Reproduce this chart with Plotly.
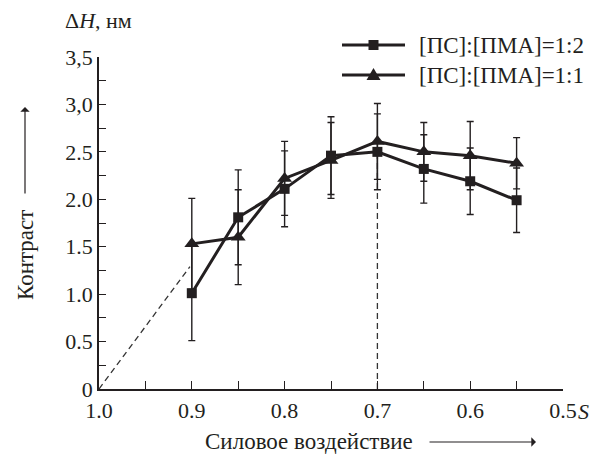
import plotly.graph_objects as go

# ---- data ----
force = [0.9, 0.85, 0.8, 0.75, 0.7, 0.65, 0.6, 0.55]
contrast_12 = [1.01, 1.81, 2.11, 2.46, 2.50, 2.32, 2.19, 1.99]
err_12 = [0.50, 0.50, 0.40, 0.41, 0.40, 0.36, 0.35, 0.34]
contrast_11 = [1.53, 1.60, 2.22, 2.41, 2.61, 2.50, 2.46, 2.38]
err_11 = [0.48, 0.50, 0.39, 0.40, 0.40, 0.31, 0.36, 0.27]
series_names = ["[ПС]:[ПМА]=1:2", "[ПС]:[ПМА]=1:1"]

guide_diag_x = [1.0, 0.902]
guide_diag_y = [0.0, 1.29]
guide_vert_x = [0.7, 0.7]
guide_vert_y = [0.0, 2.5]

y_tickvals = [i * 0.25 for i in range(15)]
y_ticklabels = {0.0: "0", 0.5: "0.5", 1.0: "1.0", 1.5: "1.5", 2.0: "2.0",
                2.5: "2.5", 3.0: "3,0", 3.5: "3,5"}
x_tickvals = [0.5 + i * 0.05 for i in range(11)]
x_ticklabels = {1.0: "1.0", 0.9: "0.9", 0.8: "0.8", 0.7: "0.7", 0.6: "0.6", 0.5: "0.5"}

# ---- layout geometry (pixels) ----
# the page body has an 8px margin, so figure coords = screen coords - 8
OFF = 8
W, H = 611, 455
ML, MR, MT, MB = 91, 56, 49, 74
L, R, T, B = ML, W - MR, MT, H - MB


def px(xs):
    return (xs - OFF - L) / (R - L)


def py(ys):
    return (B - (ys - OFF)) / (B - T)


INK = "#231f20"
FONT = "Liberation Serif"
FS = 22
TF = dict(family=FONT, size=FS, color=INK)
TF_BIG = dict(family=FONT, size=23, color=INK)

fig = go.Figure()

# guide dashed lines
for gx, gy in [(guide_diag_x, guide_diag_y), (guide_vert_x, guide_vert_y)]:
    fig.add_trace(go.Scatter(x=gx, y=gy, mode="lines",
                             line=dict(color="#333333", width=1.3, dash="6px,4px"),
                             hoverinfo="skip", showlegend=False))

fig.add_trace(go.Scatter(
    x=force, y=contrast_11, mode="lines+markers", name=series_names[1],
    line=dict(color=INK, width=3),
    marker=dict(symbol="triangle-up", size=13, color=INK),
    error_y=dict(type="data", array=err_11, symmetric=True, color=INK,
                 thickness=1.4, width=3.5),
    showlegend=False))

fig.add_trace(go.Scatter(
    x=force, y=contrast_12, mode="lines+markers", name=series_names[0],
    line=dict(color=INK, width=3),
    marker=dict(symbol="square", size=10, color=INK),
    error_y=dict(type="data", array=err_12, symmetric=True, color=INK,
                 thickness=1.4, width=3.5),
    showlegend=False))

fig.update_layout(
    width=W, height=H,
    margin=dict(l=ML, r=MR, t=MT, b=MB, pad=0),
    paper_bgcolor="white", plot_bgcolor="white",
    font=TF,
    xaxis=dict(range=[1.0, 0.5], showgrid=False, zeroline=False,
               showline=True, linecolor=INK, linewidth=1.5,
               ticks="inside", ticklen=8, tickwidth=1.3, tickcolor=INK,
               tickvals=x_tickvals, ticklabelstandoff=1,
               ticktext=[x_ticklabels.get(round(v, 2), "") for v in x_tickvals],
               tickfont=TF),
    yaxis=dict(range=[0, 3.5], showgrid=False, zeroline=False,
               showline=True, linecolor=INK, linewidth=1.5,
               ticks="inside", ticklen=7, tickwidth=1.3, tickcolor=INK,
               tickvals=y_tickvals,
               ticktext=[y_ticklabels.get(round(v, 2), "") for v in y_tickvals],
               tickfont=TF),
    showlegend=False,
)

ann = []
ann.append(dict(text="Δ<i>H</i>, нм", x=px(63), y=py(21), xref="paper", yref="paper",
                xanchor="left", yanchor="middle", showarrow=False, font=TF))
ann.append(dict(text="Контраст", x=px(25), y=py(255), xref="paper", yref="paper",
                xanchor="center", yanchor="middle", textangle=-90, showarrow=False,
                font=TF_BIG))
ann.append(dict(text="", x=px(25), y=py(107), xref="paper", yref="paper",
                ax=0, ay=88, showarrow=True, arrowhead=1, arrowsize=1.3,
                arrowwidth=1.2, arrowcolor=INK))
ann.append(dict(text="Силовое воздействие", x=px(309), y=py(441), xref="paper",
                yref="paper", xanchor="center", yanchor="middle", showarrow=False,
                font=TF_BIG, borderpad=0))
ann.append(dict(text="", x=px(536), y=py(442), xref="paper", yref="paper",
                ax=-108, ay=0, showarrow=True, arrowhead=1, arrowsize=1.3,
                arrowwidth=1.2, arrowcolor=INK))
ann.append(dict(text="<i>S</i>", x=px(576), y=py(411), xref="paper", yref="paper",
                xanchor="left", yanchor="middle", showarrow=False, font=TF))

# custom legend
leg_rows = [(45, "square"), (75, "triangle")]
shapes = []
for (ry, kind), name in zip(leg_rows, series_names):
    shapes.append(dict(type="line", xref="paper", yref="paper",
                       x0=px(342), x1=px(405), y0=py(ry), y1=py(ry),
                       line=dict(color=INK, width=3)))
    cx = 373.5
    if kind == "square":
        s = 5
        shapes.append(dict(type="rect", xref="paper", yref="paper",
                           x0=px(cx - s), x1=px(cx + s), y0=py(ry + s), y1=py(ry - s),
                           fillcolor=INK, line=dict(width=0)))
    else:
        path = "M {} {} L {} {} L {} {} Z".format(
            px(cx - 7), py(ry + 5), px(cx + 7), py(ry + 5), px(cx), py(ry - 7))
        shapes.append(dict(type="path", xref="paper", yref="paper", path=path,
                           fillcolor=INK, line=dict(width=0)))
    ann.append(dict(text=name, x=px(417), y=py(ry), xref="paper", yref="paper",
                    xanchor="left", yanchor="middle", showarrow=False, font=TF_BIG))

fig.update_layout(annotations=ann, shapes=shapes)

fig.write_html("out.html")
